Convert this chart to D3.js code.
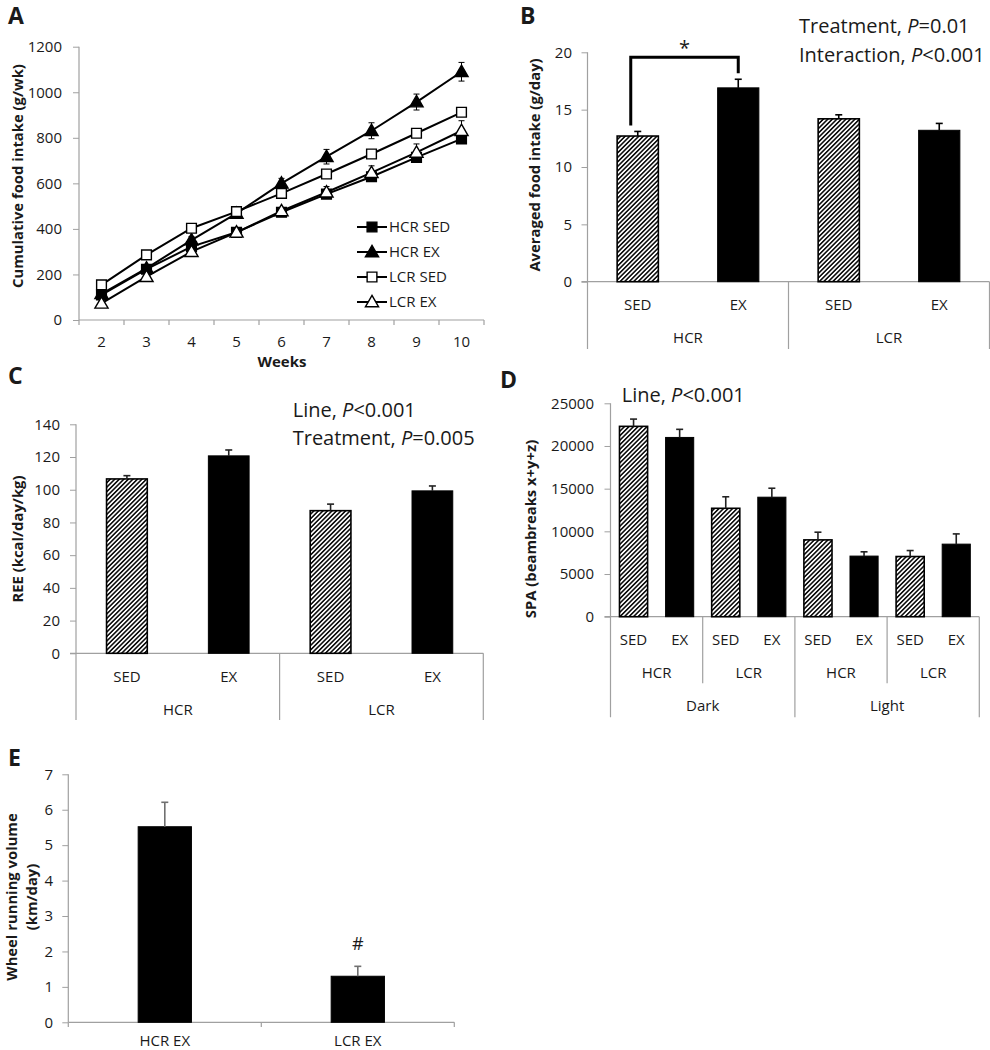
<!DOCTYPE html>
<html><head><meta charset="utf-8">
<script src="https://cdn.jsdelivr.net/npm/d3@7"></script>
<style>body{margin:0;background:#fff}svg{display:block;font-family:"Open Sans",sans-serif}</style>
</head><body><svg id="c" width="990" height="1050"></svg>
<script>
// ---------- DATA ----------
// Panel A
const weeks = [2,3,4,5,6,7,8,9,10];
const hcrSed    = [110,223,322,385,473,553,629,714,795];
const hcrSedErr = [10,12,12,12,12,12,12,12,15];
const hcrEx     = [115,227,351,468,600,717,831,957,1090];
const hcrExErr  = [10,12,15,15,22,32,35,35,41];
const lcrSed    = [154,286,403,476,556,641,729,820,912];
const lcrSedErr = [10,12,12,12,15,15,15,15,18];
const lcrEx     = [73,190,300,385,479,561,647,736,831];
const lcrExErr  = [10,12,15,15,15,25,30,37,44];
const seriesNamesA = ["HCR SED","HCR EX","LCR SED","LCR EX"];
const yTicksA = [0,200,400,600,800,1000,1200];
// Panel B
const linesB = ["HCR","LCR"];
const treatB = ["SED","EX","SED","EX"];
const foodIntake    = [12.7,16.9,14.2,13.2];
const foodIntakeErr = [0.4,0.75,0.35,0.6];
const yTicksB = [0,5,10,15,20];
// Panel C
const ree    = [106.6,120.7,87.2,99.3];
const reeErr = [2.0,3.6,4.0,3.0];
const yTicksC = [0,20,40,60,80,100,120,140];
// Panel D
const periodsD = ["Dark","Light"];
const linesD = ["HCR","LCR","HCR","LCR"];
const treatD = ["SED","EX","SED","EX","SED","EX","SED","EX"];
const spa    = [22300,21000,12700,14000,9000,7100,7050,8500];
const spaErr = [850,950,1350,1050,900,500,700,1200];
const yTicksD = [0,5000,10000,15000,20000,25000];
// Panel E
const wheelGroups = ["HCR EX","LCR EX"];
const wheel    = [5.52,1.30];
const wheelErr = [0.69,0.28];
const yTicksE = [0,1,2,3,4,5,6,7];

// ---------- DRAW ----------
const svg = d3.select("#c");
const AX = "#a0a0a0", TXT = "#1a1a1a";
const defs = svg.append("defs");
const pat = defs.append("pattern").attr("id","hatch").attr("patternUnits","userSpaceOnUse")
  .attr("width",3.2).attr("height",3.2).attr("patternTransform","rotate(45)");
pat.append("rect").attr("width",3.2).attr("height",3.2).attr("fill","#fff");
pat.append("line").attr("x1",0.8).attr("y1",0).attr("x2",0.8).attr("y2",3.2).attr("stroke","#000").attr("stroke-width",1.5);

function panelLabel(t,x,y){svg.append("text").attr("x",x).attr("y",y).attr("font-size",23).attr("font-weight","bold").attr("fill",TXT).text(t);}
function yLabel(lines,x,y,gap){
  const t = svg.append("text").attr("transform",`translate(${x},${y}) rotate(-90)`)
    .attr("text-anchor","middle").attr("font-size",14.8).attr("font-weight","bold").attr("fill",TXT);
  lines.forEach((l,i)=>t.append("tspan").attr("x",0).attr("y",i*(gap||0)).text(l));
}
function note(lines,x,y0,dy){
  lines.forEach((l,i)=>{
    const t = svg.append("text").attr("x",x).attr("y",y0+i*dy).attr("font-size",20).attr("fill",TXT);
    t.append("tspan").text(l[0]);
    t.append("tspan").attr("font-style","italic").text("P");
    t.append("tspan").text(l[1]);
  });
}
function yAxis(y,x,ticks,labelX,fmt){
  const g = svg.append("g").attr("transform",`translate(${x},0)`)
    .call(d3.axisLeft(y).tickValues(ticks).tickSize(6).tickPadding(x-labelX-6).tickFormat(fmt||(d=>d)));
  g.select(".domain").remove();
  g.selectAll(".tick line").attr("stroke",AX);
  g.selectAll(".tick text").attr("font-size",15).attr("fill",TXT).attr("font-family","Open Sans, sans-serif");
  return g;
}
function vline(x,y1,y2){svg.append("line").attr("x1",x).attr("x2",x).attr("y1",y1).attr("y2",y2).attr("stroke",AX).attr("stroke-width",1.2);}
function hline(x1,x2,y){svg.append("line").attr("x1",x1).attr("x2",x2).attr("y1",y).attr("y2",y).attr("stroke",AX).attr("stroke-width",1.2);}
function label(t,x,y,size){svg.append("text").attr("x",x).attr("y",y).attr("dy","0.35em").attr("text-anchor","middle").attr("font-size",size||15).attr("fill",TXT).text(t);}

function bars(values,errs,x,y,frac,hatched,errColor){
  const bw = x.bandwidth()*frac;
  values.forEach((v,i)=>{
    const cx = x(i)+x.bandwidth()/2;
    const h = hatched(i);
    svg.append("rect").attr("x",cx-bw/2).attr("width",bw).attr("y",y(v)).attr("height",y(0)-y(v))
      .attr("fill",h?"url(#hatch)":"#000").attr("stroke","#000").attr("stroke-width",h?1.6:1);
    const ye = y(v+errs[i]);
    svg.append("line").attr("x1",cx).attr("x2",cx).attr("y1",y(v)).attr("y2",ye).attr("stroke",errColor).attr("stroke-width",1.6);
    svg.append("line").attr("x1",cx-3.5).attr("x2",cx+3.5).attr("y1",ye).attr("y2",ye).attr("stroke",errColor).attr("stroke-width",1.6);
  });
}

// ===== Panel A =====
{
  panelLabel("A",8,24);
  const x = d3.scaleBand().domain(weeks).range([79,484]);
  const y = d3.scaleLinear().domain([0,1200]).range([320,46.7]);
  yAxis(y,79,yTicksA,62);
  vline(79,46.7,320); hline(79,484,320);
  d3.range(weeks.length+1).forEach(i=>vline(79+i*x.bandwidth(),320,325));
  weeks.forEach(w=>label(w,x(w)+x.bandwidth()/2,342));
  svg.append("text").attr("x",282).attr("y",367).attr("text-anchor","middle").attr("font-size",15).attr("font-weight","bold").attr("fill",TXT).text("Weeks");
  yLabel(["Cumulative food intake (g/wk)"],23,176);
  const data = [[hcrSed,hcrSedErr],[hcrEx,hcrExErr],[lcrSed,lcrSedErr],[lcrEx,lcrExErr]];
  const sym = [d3.symbolSquare,d3.symbolTriangle,d3.symbolSquare,d3.symbolTriangle];
  const sz  = [95,75,95,75];
  const fil = ["#000","#000","#fff","#fff"];
  const cx = w=>x(w)+x.bandwidth()/2;
  const line = d3.line().x(d=>cx(d[0])).y(d=>y(d[1]));
  data.forEach(([v,e])=>{
    weeks.forEach((w,i)=>{
      svg.append("line").attr("x1",cx(w)).attr("x2",cx(w)).attr("y1",y(v[i]-e[i])).attr("y2",y(v[i]+e[i])).attr("stroke","#000").attr("stroke-width",1);
      [v[i]-e[i],v[i]+e[i]].forEach(z=>svg.append("line").attr("x1",cx(w)-3).attr("x2",cx(w)+3).attr("y1",y(z)).attr("y2",y(z)).attr("stroke","#000").attr("stroke-width",1));
    });
  });
  data.forEach(([v],k)=>{
    svg.append("path").datum(weeks.map((w,i)=>[w,v[i]])).attr("d",line).attr("fill","none").attr("stroke","#000").attr("stroke-width",2);
  });
  data.forEach(([v],k)=>{
    weeks.forEach((w,i)=>{
      svg.append("path").attr("d",d3.symbol(sym[k],sz[k])()).attr("transform",`translate(${cx(w)},${y(v[i])+(k%2?1:0)})`)
        .attr("fill",fil[k]).attr("stroke","#000").attr("stroke-width",1.4);
    });
  });
  seriesNamesA.forEach((n,k)=>{
    const yy = 227+k*25;
    svg.append("line").attr("x1",357).attr("x2",387).attr("y1",yy).attr("y2",yy).attr("stroke","#000").attr("stroke-width",2);
    svg.append("path").attr("d",d3.symbol(sym[k],sz[k])()).attr("transform",`translate(372,${yy+(k%2?1:0)})`).attr("fill",fil[k]).attr("stroke","#000").attr("stroke-width",1.4);
    svg.append("text").attr("x",389).attr("y",yy).attr("dy","0.35em").attr("font-size",15).attr("fill",TXT).text(n);
  });
}

// ===== Panel B =====
{
  panelLabel("B",520,24);
  const x = d3.scaleBand().domain(d3.range(foodIntake.length)).range([587.5,989.5]);
  const y = d3.scaleLinear().domain([0,20]).range([281.7,52.3]);
  yAxis(y,587.5,yTicksB,572);
  hline(581.5,989.5,281.7);
  vline(587.5,52.3,349); vline(788.5,281.7,349); vline(989.5,281.7,349);
  bars(foodIntake,foodIntakeErr,x,y,0.41,i=>treatB[i]==="SED","#000");
  treatB.forEach((t,i)=>label(t,x(i)+x.bandwidth()/2,305));
  linesB.forEach((l,j)=>label(l,x(j*2)+x.bandwidth(),338));
  yLabel(["Averaged food intake (g/day)"],540,165);
  note([["Treatment, ","=0.01"],["Interaction, ","<0.001"]],799,33,28.7);
  const c0 = x(0)+x.bandwidth()/2-7, c1 = x(1)+x.bandwidth()/2, top = 57.3;
  svg.append("path").attr("d",`M${c0},${y(foodIntake[0]+foodIntakeErr[0])-6}V${top}H${c1}V${y(foodIntake[1]+foodIntakeErr[1])-6}`)
    .attr("fill","none").attr("stroke","#000").attr("stroke-width",3);
  svg.append("text").attr("x",(c0+c1)/2).attr("y",55).attr("text-anchor","middle").attr("font-size",20).attr("fill",TXT).text("*");
}

// ===== Panel C =====
{
  panelLabel("C",8,384);
  const x = d3.scaleBand().domain(d3.range(ree.length)).range([76,483.3]);
  const y = d3.scaleLinear().domain([0,140]).range([653.3,424.3]);
  yAxis(y,76,yTicksC,60);
  hline(70,483.3,653.3);
  vline(76,424.3,720); vline(279.6,653.3,720); vline(483.3,653.3,720);
  bars(ree,reeErr,x,y,0.40,i=>treatB[i]==="SED","#222");
  treatB.forEach((t,i)=>label(t,x(i)+x.bandwidth()/2,676.7));
  linesB.forEach((l,j)=>label(l,x(j*2)+x.bandwidth(),710));
  yLabel(["REE (kcal/day/kg)"],23,539);
  note([["Line, ","<0.001"],["Treatment, ","=0.005"]],292.7,416.7,28.3);
}

// ===== Panel D =====
{
  panelLabel("D",500,388);
  const x = d3.scaleBand().domain(d3.range(spa.length)).range([610.5,979.3]);
  const y = d3.scaleLinear().domain([0,25000]).range([616.7,403.3]);
  yAxis(y,610.5,yTicksD,594);
  hline(604.5,979.3,616.7);
  vline(610.5,403.3,717.3);
  [2,6].forEach(i=>vline(x(i),616.7,683.3));
  vline(x(4),616.7,717.3); vline(979.3,616.7,717.3);
  bars(spa,spaErr,x,y,0.61,i=>treatD[i]==="SED","#222");
  treatD.forEach((t,i)=>label(t,x(i)+x.bandwidth()/2,639.3));
  linesD.forEach((l,j)=>label(l,x(j*2)+x.bandwidth(),672.7));
  periodsD.forEach((p,j)=>label(p,x(j*4)+2*x.bandwidth(),706));
  yLabel(["SPA (beambreaks x+y+z)"],536,529);
  note([["Line, ","<0.001"]],621.7,401.7,0);
}

// ===== Panel E =====
{
  panelLabel("E",8,766);
  const x = d3.scaleBand().domain(d3.range(wheel.length)).range([68.3,454.3]);
  const y = d3.scaleLinear().domain([0,7]).range([1022.3,774.3]);
  yAxis(y,68.3,yTicksE,53);
  vline(68.3,774.3,1022.3); hline(68.3,454.3,1022.3);
  [0,1,2].forEach(i=>vline(68.3+i*x.bandwidth(),1022.3,1027));
  bars(wheel,wheelErr,x,y,0.276,()=>false,"#707070");
  wheelGroups.forEach((t,i)=>label(t,x(i)+x.bandwidth()/2,1040.5));
  yLabel(["Wheel running volume","(km/day)"],17,897,20);
  svg.append("text").attr("x",x(1)+x.bandwidth()/2).attr("y",943.3).attr("dy","0.35em").attr("text-anchor","middle").attr("font-size",18).attr("fill",TXT).text("#");
}
</script></body></html>
